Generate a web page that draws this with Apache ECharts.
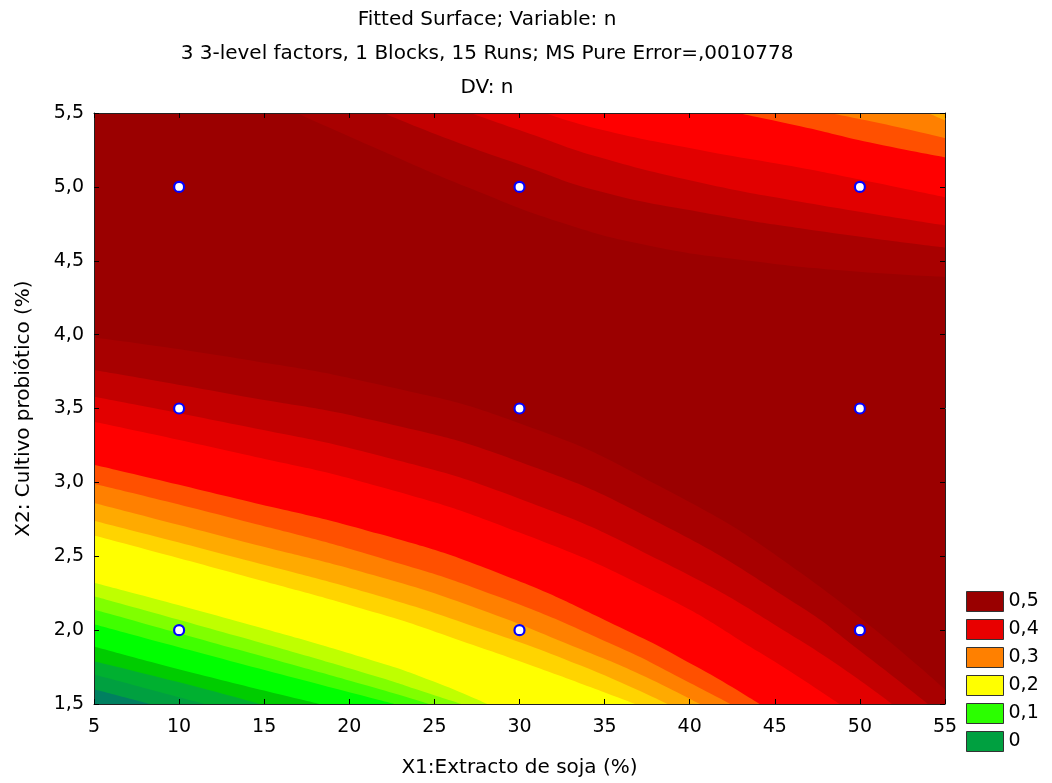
<!DOCTYPE html>
<html>
<head>
<meta charset="utf-8">
<script src="https://cdn.jsdelivr.net/npm/echarts@6/dist/echarts.min.js"></script>
<style>
  html, body { margin: 0; padding: 0; background: #fff; }
  #chart { width: 1052px; height: 783px; }
</style>
</head>
<body>
<div id="chart"></div>
<script>
// design points (15 runs, center repeated)
const runX = [10, 30, 50, 10, 30, 50, 10, 30, 50]
const runY = [2.0, 2.0, 2.0, 3.5, 3.5, 3.5, 5.0, 5.0, 5.0]

const xTicks = [5, 10, 15, 20, 25, 30, 35, 40, 45, 50, 55]
const yTicks = [1.5, 2.0, 2.5, 3.0, 3.5, 4.0, 4.5, 5.0, 5.5]

const legendLabels = ['0,5', '0,4', '0,3', '0,2', '0,1', '0']

// contour levels of the fitted n surface
const levels = [0.5, 0.469, 0.438, 0.406, 0.375, 0.344, 0.313, 0.281, 0.25,
  0.219, 0.188, 0.156, 0.125, 0.094, 0.063, 0.031, 0]

// contour lines, lower-left part (x1, x2)
const low500 = [[5, 3.98], [13.4, 3.84], [21.8, 3.66], [30, 3.40], [38.3, 2.97], [46.5, 2.39], [55, 1.60]]
const low469 = [[5, 3.76], [13.4, 3.59], [21.8, 3.41], [30, 3.14], [38.3, 2.72], [46.5, 2.16], [50, 1.86], [54, 1.5]]
const low438 = [[5, 3.58], [13.4, 3.39], [21.8, 3.18], [30, 2.89], [38.3, 2.47], [46.5, 1.93], [51.9, 1.5]]
const low406 = [[5, 3.41], [13.4, 3.20], [21.8, 2.97], [30, 2.66], [38.3, 2.24], [44.1, 1.85], [48.8, 1.5]]
const low375 = [[5, 3.12], [13.4, 2.89], [21.8, 2.65], [28.9, 2.38], [35.9, 2.02], [40.6, 1.74], [44.1, 1.5]]
const low344 = [[5, 2.99], [13.4, 2.75], [21.8, 2.49], [28.9, 2.22], [35.9, 1.88], [39.4, 1.68], [42.4, 1.5]]
const low313 = [[5, 2.86], [13.4, 2.61], [21.8, 2.36], [27.7, 2.14], [33.6, 1.87], [37.1, 1.70], [40.6, 1.5]]
const low281 = [[5, 2.74], [13.4, 2.49], [21.8, 2.23], [27.7, 2.01], [33.6, 1.76], [38.7, 1.5]]
const low250 = [[5, 2.64], [13.4, 2.38], [21.8, 2.11], [26.5, 1.93], [31.2, 1.74], [36.8, 1.5]]
const low219 = [[5, 2.32], [13.4, 2.06], [21.8, 1.78], [25, 1.65], [28.1, 1.5]]
const low188 = [[5, 2.23], [13.4, 1.96], [21.8, 1.68], [24.2, 1.59], [26.6, 1.5]]
const low156 = [[5, 2.14], [13.4, 1.87], [21.8, 1.60], [24.7, 1.5]]
const low125 = [[5, 2.04], [13.4, 1.78], [22.7, 1.5]]
const low094 = [[5, 1.89], [11.2, 1.70], [18.3, 1.5]]
const low063 = [[5, 1.79], [9.9, 1.65], [14.75, 1.5]]
const low031 = [[5, 1.70], [11.5, 1.5]]
const low000 = [[5, 1.60], [8.3, 1.5]]

// contour lines, upper-right part
const high500 = [[16.9, 5.5], [21.8, 5.25], [27.1, 4.99], [32.4, 4.76], [37.7, 4.60], [43.5, 4.50], [49.4, 4.43], [55, 4.39]]
const high469 = [[22, 5.5], [25.9, 5.32], [30.3, 5.14], [34.7, 4.97], [40.6, 4.83], [47.7, 4.70], [55, 4.59]]
const high438 = [[27.1, 5.5], [30.6, 5.36], [34.7, 5.20], [40.6, 5.03], [46.5, 4.90], [55, 4.74]]
const high406 = [[31.5, 5.5], [34.7, 5.39], [40.6, 5.25], [46.5, 5.13], [50, 5.05], [55, 4.93]]
const high375 = [[42.8, 5.5], [46.5, 5.41], [50.6, 5.30], [55, 5.20]]
const high344 = [[48.2, 5.5], [51.2, 5.43], [55, 5.33]]
const high313 = [[54, 5.5], [55, 5.45]]

const lowLines = [low500, low469, low438, low406, low375, low344, low313, low281, low250,
  low219, low188, low156, low125, low094, low063, low031, low000]
const highLines = [high500, high469, high438, high406, high375, high344, high313]

// colour of the band just under each level
const bandColors = ['#a80000', '#c30000', '#e20000', '#ff0000', '#ff5000', '#ff8000', '#ffaa00',
  '#ffd400', '#ffff00', '#bfff00', '#80ff00', '#40ff00', '#00ff00', '#00cc00', '#00b030',
  '#00a040', '#008060']
const topColor = '#9b0000'
const legendColors = ['#990000', '#e80000', '#ff8000', '#ffff00', '#2bff00', '#00a040']

const FONT = "'DejaVu Sans', sans-serif"
const comma = v => v.toFixed(1).replace('.', ',')

function bandSeries(points, i, origin) {
  return {
    name: 'n < ' + levels[i],
    type: 'line',
    data: points,
    smooth: 0.5,
    symbol: 'none',
    silent: true,
    lineStyle: { width: 0, opacity: 0 },
    areaStyle: { color: bandColors[i], opacity: 1, origin: origin },
    z: 1
  }
}

const series = []
lowLines.forEach((pts, i) => series.push(bandSeries(pts, i, 'start')))
highLines.forEach((pts, i) => series.push(bandSeries(pts, i, 'end')))

series.push({
  name: 'runs',
  type: 'scatter',
  data: runX.map((x, i) => [x, runY[i]]),
  symbol: 'circle',
  symbolSize: 10,
  itemStyle: { color: '#ffffff', borderColor: '#0000ff', borderWidth: 2.2, opacity: 1 },
  z: 5
})

legendLabels.forEach((name, i) => {
  series.push({ name: name, type: 'scatter', data: [], itemStyle: { color: legendColors[i], opacity: 1 } })
})

const axisCommon = {
  type: 'value',
  axisLine: { onZero: false, lineStyle: { color: '#222', width: 1 } },
  axisTick: { inside: true, length: 5, lineStyle: { color: '#000' } },
  splitLine: { show: false },
  z: 10
}

const chart = echarts.init(document.getElementById('chart'))

chart.setOption({
  animation: false,
  backgroundColor: '#ffffff',
  title: {
    text: 'Fitted Surface; Variable: n\n3 3-level factors, 1 Blocks, 15 Runs; MS Pure Error=,0010778\nDV: n',
    left: 487,
    textAlign: 'center',
    top: 3,
    padding: 0,
    textStyle: { fontFamily: FONT, fontSize: 20, fontWeight: 'normal', color: '#000', lineHeight: 34 }
  },
  grid: {
    left: 94, right: 107, top: 113, bottom: 78,
    show: true, backgroundColor: topColor, borderWidth: 0
  },
  legend: {
    data: legendLabels.map((name, i) => ({
      name: name,
      icon: 'rect',
      itemStyle: { color: legendColors[i], borderColor: '#333', borderWidth: 1, opacity: 1 }
    })),
    orient: 'vertical',
    left: 966,
    top: 591,
    padding: 0,
    itemWidth: 37,
    itemHeight: 20,
    itemGap: 7,
    selectedMode: false,
    textStyle: { fontFamily: FONT, fontSize: 19, color: '#000', lineHeight: 20 }
  },
  xAxis: [
    Object.assign({}, axisCommon, {
      position: 'bottom',
      min: xTicks[0], max: xTicks[xTicks.length - 1], interval: xTicks[1] - xTicks[0],
      name: 'X1:Extracto de soja (%)',
      nameLocation: 'middle',
      nameGap: 54,
      nameTextStyle: { fontFamily: FONT, fontSize: 20, color: '#000' },
      axisLabel: { fontFamily: FONT, fontSize: 19, color: '#000', margin: 14 }
    }),
    Object.assign({}, axisCommon, {
      position: 'top',
      min: xTicks[0], max: xTicks[xTicks.length - 1], interval: xTicks[1] - xTicks[0],
      axisLabel: { show: false }
    })
  ],
  yAxis: [
    Object.assign({}, axisCommon, {
      position: 'left',
      min: yTicks[0], max: yTicks[yTicks.length - 1], interval: yTicks[1] - yTicks[0],
      name: 'X2: Cultivo probiótico (%)',
      nameLocation: 'middle',
      nameGap: 60,
      nameTextStyle: { fontFamily: FONT, fontSize: 20, color: '#000' },
      axisLabel: { fontFamily: FONT, fontSize: 19, color: '#000', margin: 10, formatter: comma }
    }),
    Object.assign({}, axisCommon, {
      position: 'right',
      min: yTicks[0], max: yTicks[yTicks.length - 1], interval: yTicks[1] - yTicks[0],
      axisLabel: { show: false }
    })
  ],
  series: series
})
</script>
</body>
</html>
